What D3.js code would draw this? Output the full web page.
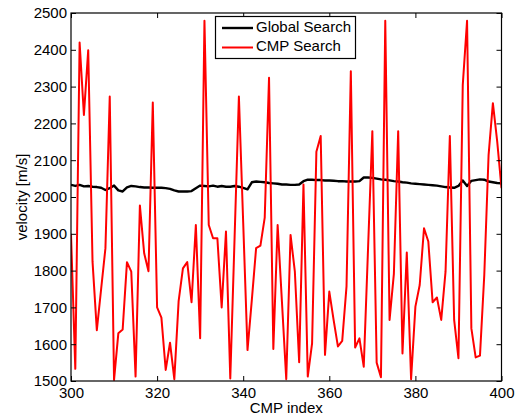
<!DOCTYPE html>
<html>
<head>
<meta charset="utf-8">
<script src="https://cdn.jsdelivr.net/npm/d3@7"></script>
<style>
  html, body { margin: 0; padding: 0; background: #fff; }
  svg { display: block; }
  text { font-family: "Liberation Sans", Arial, Helvetica, sans-serif; fill: #000; }
</style>
</head>
<body>
<div id="chart"></div>
<script>
// ---- data ----
const cmpStart = 300;
const globalSearch = [
  2033, 2030, 2033, 2029, 2030, 2028, 2027, 2025, 2019, 2024,
  2031, 2018, 2015, 2026, 2030, 2029, 2027, 2026, 2026, 2025,
  2025, 2025, 2024, 2022, 2018, 2015, 2015, 2015, 2016, 2024,
  2031, 2030, 2029, 2031, 2028, 2030, 2028, 2028, 2030, 2028,
  2025, 2021, 2040, 2042, 2041, 2040, 2038, 2037, 2036, 2034,
  2034, 2033, 2033, 2034, 2043, 2047, 2047, 2046, 2046, 2045,
  2045, 2044, 2043, 2043, 2042, 2042, 2042, 2043, 2053, 2053,
  2052, 2050, 2048, 2047, 2045, 2043, 2042, 2040, 2039, 2037,
  2036, 2035, 2034, 2033, 2032, 2031, 2029, 2027, 2026, 2025,
  2030, 2045, 2030, 2044, 2046, 2048, 2047, 2042, 2040, 2038,
  2037
];
const cmpSearch = [
  1900, 1533, 2420, 2223, 2399, 1825, 1638, 1750, 1861, 2273,
  1503, 1630, 1640, 1823, 1797, 1512, 1977, 1847, 1798, 2257,
  1700, 1672, 1530, 1604, 1505, 1717, 1806, 1823, 1714, 1924,
  1616, 2479, 1924, 1888, 1888, 1700, 1906, 1507, 1890, 2273,
  1930, 1584, 1720, 1861, 1868, 1944, 2324, 1587, 1924, 1715,
  1505, 1897, 1797, 1551, 2034, 1512, 1602, 2123, 2166, 1571,
  1743, 1666, 1594, 1609, 1757, 2342, 1591, 1616, 1539, 1860,
  2179, 1550, 1510, 2479, 1666, 1791, 2179, 1575, 1849, 1505,
  1702, 1761, 1915, 1879, 1714, 1727, 1666, 1797, 2166, 1666,
  1562, 2304, 2479, 1643, 1564, 1569, 1788, 2114, 2255, 2151,
  2024
];
const xTicks = [300, 320, 340, 360, 380, 400];
const yTicks = [1500, 1600, 1700, 1800, 1900, 2000, 2100, 2200, 2300, 2400, 2500];
const seriesNames = ["Global Search", "CMP Search"];
const seriesColors = ["#000000", "#ff0000"];

// ---- layout ----
const W = 519, H = 416;
const mL = 71, mR = 501.5, mT = 13, mB = 381;

const svg = d3.select("#chart").append("svg").attr("width", W).attr("height", H);

const x = d3.scaleLinear().domain([300, 400]).range([mL, mR]);
const y = d3.scaleLinear().domain([1500, 2500]).range([mB, mT]);

const clipId = "plotclip";
svg.append("clipPath").attr("id", clipId).append("rect")
  .attr("x", mL).attr("y", mT - 1).attr("width", mR - mL).attr("height", mB - mT + 2);

const toPts = arr => arr.map((v, i) => ({ i: cmpStart + i, v }));
const line = d3.line().x(d => x(d.i)).y(d => y(d.v));

const plot = svg.append("g").attr("clip-path", `url(#${clipId})`);
plot.append("path").datum(toPts(globalSearch))
  .attr("fill", "none").attr("stroke", seriesColors[0]).attr("stroke-width", 2.4)
  .attr("stroke-linejoin", "round").attr("d", line);
plot.append("path").datum(toPts(cmpSearch))
  .attr("fill", "none").attr("stroke", seriesColors[1]).attr("stroke-width", 2)
  .attr("stroke-linejoin", "round").attr("d", line);

// ---- axes (MATLAB box style, inward ticks) ----
const tickLen = 5;
const fs = 15;
const gB = svg.append("g").attr("transform", `translate(0,${mB})`)
  .call(d3.axisBottom(x).tickValues(xTicks).tickSizeInner(-tickLen).tickSizeOuter(0).tickPadding(6).tickFormat(d3.format("d")));
const gT = svg.append("g").attr("transform", `translate(0,${mT})`)
  .call(d3.axisTop(x).tickValues(xTicks).tickSizeInner(-tickLen).tickSizeOuter(0).tickFormat(""));
const gL = svg.append("g").attr("transform", `translate(${mL},0)`)
  .call(d3.axisLeft(y).tickValues(yTicks).tickSizeInner(-tickLen).tickSizeOuter(0).tickPadding(4).tickFormat(d3.format("d")));
const gR = svg.append("g").attr("transform", `translate(${mR},0)`)
  .call(d3.axisRight(y).tickValues(yTicks).tickSizeInner(-tickLen).tickSizeOuter(0).tickFormat(""));

[gB, gT, gL, gR].forEach(g => {
  g.select(".domain").remove();
  g.selectAll(".tick line").attr("stroke", "#000").attr("stroke-width", 1);
  g.selectAll("text").style("font-size", fs + "px").attr("fill", "#000");
});
gB.selectAll("text").attr("dy", "0.72em");
gL.selectAll("text").attr("x", -4);

svg.append("rect").attr("x", mL).attr("y", mT)
  .attr("width", mR - mL).attr("height", mB - mT)
  .attr("fill", "none").attr("stroke", "#000").attr("stroke-width", 1.2);

// axis labels
svg.append("text").attr("x", (mL + mR) / 2).attr("y", 413)
  .attr("text-anchor", "middle")
  .style("font-size", fs + "px").text("CMP index");
svg.append("text").attr("transform", `translate(23,${(mT + mB) / 2}) rotate(-90)`)
  .attr("text-anchor", "middle").attr("dominant-baseline", "middle")
  .style("font-size", fs + "px").text("velocity [m/s]");

// ---- legend ----
const lg = svg.append("g");
lg.append("rect").attr("x", 215.5).attr("y", 16.5).attr("width", 140).attr("height", 42)
  .attr("fill", "#fff").attr("stroke", "#000").attr("stroke-width", 1.2);
seriesNames.forEach((name, k) => {
  const cy = 28 + k * 19.5;
  lg.append("line").attr("x1", 222).attr("x2", 253).attr("y1", cy).attr("y2", cy)
    .attr("stroke", seriesColors[k]).attr("stroke-width", k === 0 ? 2.4 : 2);
  lg.append("text").attr("x", 256).attr("y", cy).attr("dominant-baseline", "middle")
    .style("font-size", fs + "px").text(name);
});
</script>
</body>
</html>
